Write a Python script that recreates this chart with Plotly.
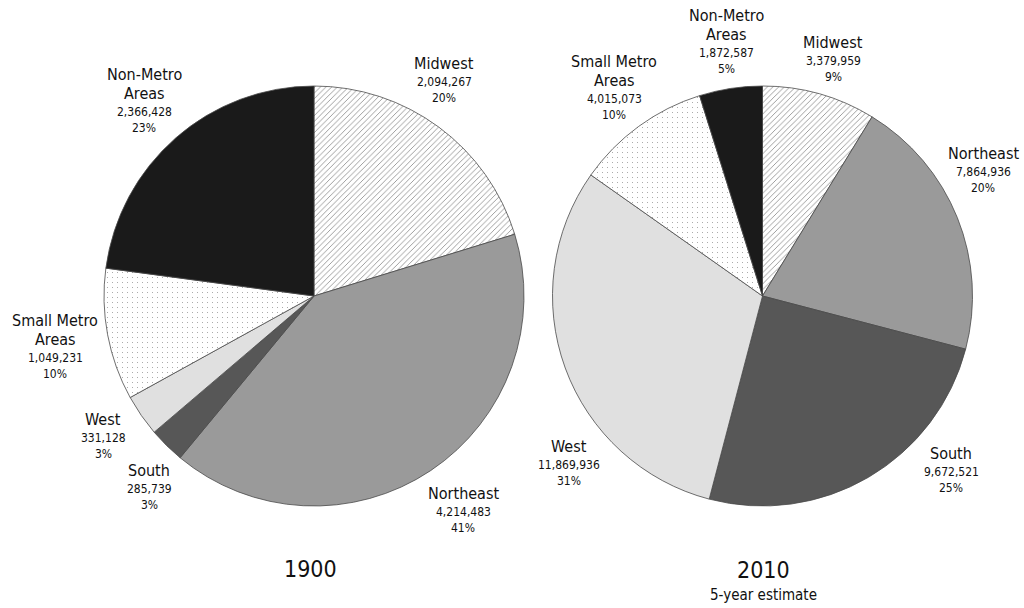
import plotly.graph_objects as go

# Regional breakdown, in clockwise order from 12 o'clock
regions = ["Midwest", "Northeast", "South", "West", "Small Metro Areas", "Non-Metro Areas"]
pop_1900 = [2094267, 4214483, 285739, 331128, 1049231, 2366428]
pop_2010 = [3379959, 7864936, 9672521, 11869936, 4015073, 1872587]

title_1900 = "1900"
title_2010 = "2010"
subtitle_2010 = "5-year estimate"

# Slice styling (same region -> same fill in both pies)
fills = ["#ffffff", "#9a9a9a", "#575757", "#e0e0e0", "#ffffff", "#1a1a1a"]
patterns = ["/", "", "", "", ".", ""]

W, H = 1024, 608
FONT = "Liberation Sans Narrow, DejaVu Sans Condensed, Arial Narrow, sans-serif"

# Label anchors in pixels: (center x, baseline of first title line)
label_pos_1900 = [(444, 69), (463, 499), (149, 476), (103, 425), (55, 326), (144, 80)]
label_pos_2010 = [(833, 48), (983, 159), (951, 459), (569, 452), (614, 67), (726, 21)]

TITLE_SIZE = 16
VALUE_SIZE = 12


def px(x):
    return x / W


def py(y):
    return 1 - y / H


def pie(values, cx, cy, r, name):
    return go.Pie(
        labels=regions,
        values=values,
        name=name,
        sort=False,
        direction="clockwise",
        rotation=0,
        textinfo="none",
        hoverinfo="label+value+percent",
        showlegend=False,
        domain=dict(x=[px(cx - r), px(cx + r)], y=[py(cy + r), py(cy - r)]),
        marker=dict(
            colors=fills,
            line=dict(color="#4a4a4a", width=0.8),
            pattern=dict(
                shape=patterns,
                fgcolor="#6a6a6a",
                bgcolor="#ffffff",
                size=[4, 8, 8, 8, 5, 8],
                solidity=[0.16, 0.3, 0.3, 0.3, 0.03, 0.3],
                fillmode="replace",
            ),
        ),
    )


def line_annot(text, x, baseline, size):
    return dict(
        text=text,
        x=px(x),
        y=py(baseline - 0.35 * size),
        xref="paper",
        yref="paper",
        xanchor="center",
        yanchor="middle",
        showarrow=False,
        borderpad=0,
        font=dict(family=FONT, size=size, color="#111111"),
    )


def slice_labels(values, positions):
    total = sum(values)
    out = []
    for name, v, (x, b) in zip(regions, values, positions):
        if name.endswith("Areas"):
            title_lines = [name[: -len(" Areas")], "Areas"]
        else:
            title_lines = [name]
        y = b
        for i, t in enumerate(title_lines):
            out.append(line_annot(t, x, y, TITLE_SIZE))
            if i < len(title_lines) - 1:
                y += 19
        y += 17
        out.append(line_annot(f"{v:,}", x, y, VALUE_SIZE))
        y += 16
        out.append(line_annot(f"{round(v / total * 100)}%", x, y, VALUE_SIZE))
    return out


fig = go.Figure()
fig.add_trace(pie(pop_1900, 314, 296, 210, title_1900))
fig.add_trace(pie(pop_2010, 762.5, 296, 210, title_2010))

annotations = slice_labels(pop_1900, label_pos_1900) + slice_labels(pop_2010, label_pos_2010)
annotations.append(line_annot(title_1900, 310, 577, 23))
annotations.append(line_annot(title_2010, 763, 578, 23))
annotations.append(line_annot(subtitle_2010, 763, 600, 15))

fig.update_layout(
    width=W,
    height=H,
    margin=dict(l=0, r=0, t=0, b=0),
    paper_bgcolor="#ffffff",
    plot_bgcolor="#ffffff",
    annotations=annotations,
    font=dict(family=FONT),
)

fig.write_html("out.html")
